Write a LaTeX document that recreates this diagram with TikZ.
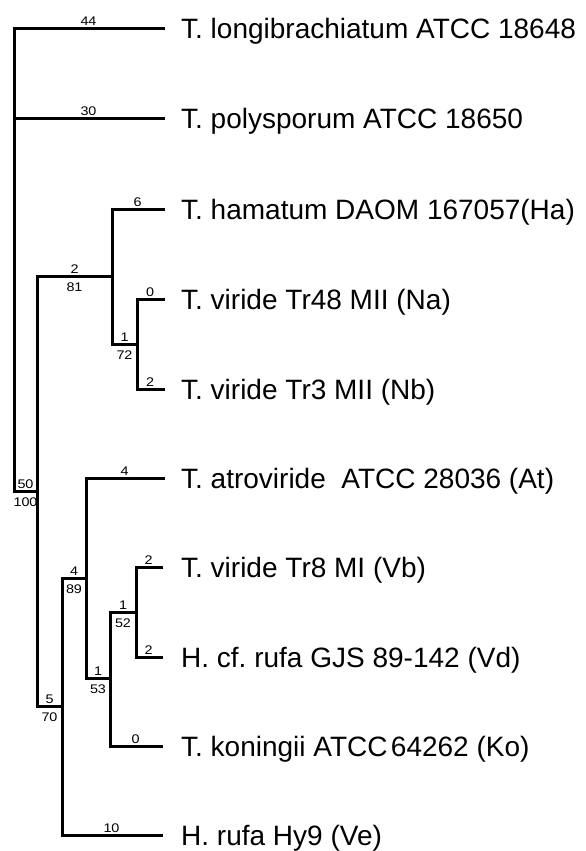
\documentclass[tikz,border=0pt]{standalone}
\usepackage{fontspec}
\setmainfont{Liberation Sans}
\newfontfamily\numfont[FakeStretch=1.15]{Liberation Sans}
\frenchspacing
\begin{document}
\begin{tikzpicture}[x=1pt,y=-1pt,
  branch/.style={line width=3pt, line cap=rect, line join=miter},
  taxon/.style={anchor=base west, inner sep=0pt, font=\fontsize{28}{30}\selectfont},
  up/.style={pos=0.75, anchor=base, inner sep=0pt, yshift=3pt, font=\numfont\fontsize{12.5}{12.5}\selectfont},
  dn/.style={pos=0.75, anchor=base, inner sep=0pt, yshift=-15pt, font=\numfont\fontsize{12.5}{12.5}\selectfont}]
\useasboundingbox (0,0) rectangle (586,851);
% internal nodes
\coordinate (root) at (14,491);
\coordinate (A) at (37,491);
\coordinate (B) at (112,276);
\coordinate (C) at (137,344);
\coordinate (D) at (62,706);
\coordinate (E) at (86,578);
\coordinate (F) at (110,678);
\coordinate (G) at (136,612);
% leaf ends
\coordinate (l1) at (163,29);
\coordinate (l2) at (163,118);
\coordinate (l3) at (163,209);
\coordinate (l4) at (163,299);
\coordinate (l5) at (163,389);
\coordinate (l6) at (163,478);
\coordinate (l7) at (161,567);
\coordinate (l8) at (161,657);
\coordinate (l9) at (161,746);
\coordinate (l10) at (161,835);
% taxon labels
\node[taxon] (t1) at ([xshift=18pt,yshift=-10pt]l1) {T. longibrachiatum ATCC 18648};
\node[taxon] (t2) at ([xshift=18pt,yshift=-10pt]l2) {T. polysporum ATCC 18650};
\node[taxon] (t3) at ([xshift=18pt,yshift=-10pt]l3) {T. hamatum DAOM 167057(Ha)};
\node[taxon] (t4) at ([xshift=18pt,yshift=-10pt]l4) {T. viride Tr48 MII (Na)};
\node[taxon] (t5) at ([xshift=18pt,yshift=-10pt]l5) {T. viride Tr3 MII (Nb)};
\node[taxon] (t6) at ([xshift=18pt,yshift=-10pt]l6) {T. atroviride\ \ ATCC 28036 (At)};
\node[taxon] (t7) at ([xshift=20pt,yshift=-10pt]l7) {T. viride Tr8 MI (Vb)};
\node[taxon] (t8) at ([xshift=20pt,yshift=-10pt]l8) {H. cf. rufa GJS 89-142 (Vd)};
\node[taxon] (t9) at ([xshift=20pt,yshift=-10pt]l9) {T. koningii ATCC\hspace{0.12em}64262 (Ko)};
\node[taxon] (t10) at ([xshift=20pt,yshift=-10pt]l10) {H. rufa Hy9 (Ve)};
% branches
\draw[branch] (root) |- (l1) node[up] {44};
\draw[branch] (root) |- (l2) node[up] {30};
\draw[branch] (root) |- (A) node[up] {50} node[dn] {100};
\draw[branch] (A) |- (B) node[up] {2} node[dn] {81};
\draw[branch] (A) |- (D) node[up] {5} node[dn] {70};
\draw[branch] (B) |- (l3) node[up] {6};
\draw[branch] (B) |- (C) node[up] {1} node[dn] {72};
\draw[branch] (C) |- (l4) node[up] {0};
\draw[branch] (C) |- (l5) node[up] {2};
\draw[branch] (D) |- (E) node[up] {4} node[dn] {89};
\draw[branch] (D) |- (l10) node[up] {10};
\draw[branch] (E) |- (l6) node[up] {4};
\draw[branch] (E) |- (F) node[up] {1} node[dn] {53};
\draw[branch] (F) |- (G) node[up] {1} node[dn] {52};
\draw[branch] (F) |- (l9) node[up] {0};
\draw[branch] (G) |- (l7) node[up] {2};
\draw[branch] (G) |- (l8) node[up] {2};
\end{tikzpicture}
\end{document}
